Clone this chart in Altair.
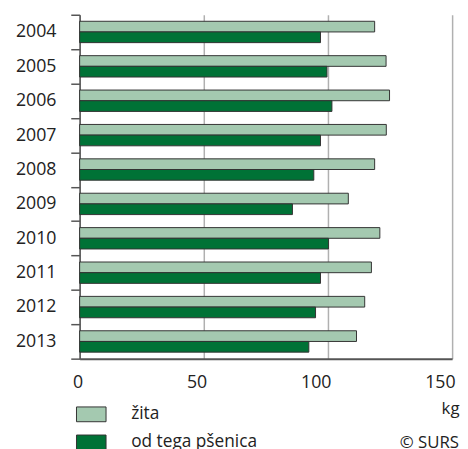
import altair as alt
import pandas as pd

years = ["2004", "2005", "2006", "2007", "2008", "2009", "2010", "2011", "2012", "2013"]
zita = [118.8, 123.4, 124.8, 123.5, 118.8, 108.2, 120.9, 117.5, 114.8, 111.5]
psenica = [97.0, 99.6, 101.6, 97.0, 94.3, 85.7, 100.2, 97.0, 95.0, 92.3]
series = ["žita", "od tega pšenica"]
colors = ["#a4c9b0", "#007236"]
x_ticks = [0, 50, 100, 150]
unit = "kg"
source = ["© SURS"]

rows = []
for i, yr in enumerate(years):
    rows.append({"year": yr, "series": series[0], "value": zita[i]})
    rows.append({"year": yr, "series": series[1], "value": psenica[i]})
df = pd.DataFrame(rows)

FONT = "Open Sans"
TXT = "#222222"

bars = alt.Chart(df).mark_bar(stroke="#333333", strokeWidth=1).encode(
    x=alt.X(
        "value:Q",
        scale=alt.Scale(domain=[0, 150], nice=False),
        axis=alt.Axis(
            values=x_ticks,
            title=unit,
            titleAnchor="end",
            titleAlign="right",
            titleX=385,
            titleY=51,
            titleBaseline="middle",
            titleFontSize=17,
            titleFontWeight="normal",
            titleColor=TXT,
            titleFont=FONT,
            grid=True,
            gridColor="#b0b0b0",
            gridWidth=1.5,
            ticks=False,
            domainColor="#555555",
            domainWidth=2,
            labelFont=FONT,
            labelFontSize=18,
            labelColor=TXT,
            labelAlign="right",
            labelBaseline="middle",
            labelPadding=24,
            labelOffset=3,
        ),
    ),
    y=alt.Y(
        "year:N",
        sort=years,
        scale=alt.Scale(paddingInner=0, paddingOuter=0),
        axis=alt.Axis(
            title=None,
            tickBand="extent",
            tickSize=9,
            tickColor="#555555",
            tickWidth=1.5,
            domainColor="#555555",
            domainWidth=1.5,
            labelFont=FONT,
            labelFontSize=18,
            labelColor=TXT,
            labelPadding=15,
            grid=False,
        ),
    ),
    yOffset=alt.YOffset("series:N", sort=series, scale=alt.Scale(paddingInner=0, paddingOuter=0.61)),
    color=alt.Color(
        "series:N",
        sort=series,
        scale=alt.Scale(domain=series, range=colors),
        legend=alt.Legend(
            title=None,
            orient="none",
            legendX=-3.7,
            legendY=390,
            direction="vertical",
            symbolType="M-1,-0.5H1V0.5H-1Z",
            symbolSize=900,
            symbolStrokeColor="#333333",
            symbolStrokeWidth=1,
            symbolOpacity=1,
            labelFont=FONT,
            labelFontSize=17.5,
            labelColor=TXT,
            labelOffset=25,
            rowPadding=3.5,
            padding=0,
        ),
    ),
)

src = alt.Chart(pd.DataFrame({"t": source})).mark_text(
    font=FONT, fontSize=17, color=TXT, align="right", baseline="middle"
).encode(x=alt.value(385), y=alt.value(435), text="t:N")

chart = alt.layer(bars, src).properties(
    width=378,
    height=349,
    autosize=alt.AutoSizeParams(type="none"),
    padding={"left": 72.7, "top": 3.5, "right": 8, "bottom": 100},
).configure_view(strokeWidth=0)

chart.save("out.html", embed_options={"renderer": "svg", "actions": False})
